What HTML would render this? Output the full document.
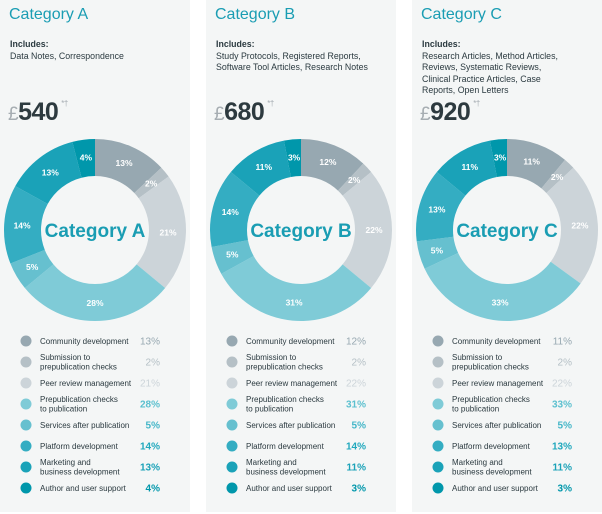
<!DOCTYPE html>
<html><head><meta charset="utf-8"><style>
body{margin:0;width:602px;height:514px;background:#fff;font-family:"Liberation Sans",sans-serif;position:relative;overflow:hidden}
.p{position:absolute;top:0;height:512px;background:#f4f6f6}
.t{position:absolute;left:9px;top:6px;font-size:16px;color:#1a9db3}
.inc{position:absolute;left:10px;top:39px;font-size:8.8px;line-height:11.6px;color:#2b3a40}
.inc b{display:block}
.pr{position:absolute;left:8px;top:98px;font-size:25px;font-weight:bold;color:#2d3a3f;letter-spacing:-0.5px}
.pr span{color:#a6adb2;font-size:19px;font-weight:normal}
.pr sup{color:#a6adb2;font-size:8px;font-weight:normal;vertical-align:14px;margin-left:3px}
svg{position:absolute;left:0;top:0}
</style></head><body>
<div class="p" style="left:0;width:190px"><div class="t">Category A</div><div class="inc"><b>Includes:</b>Data Notes, Correspondence</div><div class="pr"><span>£</span>540<sup>*†</sup></div><svg id="a" width="190" height="512"></svg></div>
<div class="p" style="left:206px;width:190px"><div class="t">Category B</div><div class="inc"><b>Includes:</b>Study Protocols, Registered Reports,<br>Software Tool Articles, Research Notes</div><div class="pr"><span>£</span>680<sup>*†</sup></div><svg id="b" width="190" height="512"></svg></div>
<div class="p" style="left:412px;width:190px"><div class="t">Category C</div><div class="inc"><b>Includes:</b>Research Articles, Method Articles,<br>Reviews, Systematic Reviews,<br>Clinical Practice Articles, Case<br>Reports, Open Letters</div><div class="pr"><span>£</span>920<sup>*†</sup></div><svg id="c" width="190" height="512"></svg></div>
<script>
var cols=["#97a8b1","#b5c0c6","#ccd4d9","#7fcbd7","#66c0cf","#34adc2","#1aa2b8","#0097ab"];
var tcols=["#97a8b1","#b5c0c6","#ccd4d9","#5cc0cf","#44b6c8","#20a8bd","#1aa2b8","#0097ab"];
var names=[["Community development"],["Submission to","prepublication checks"],["Peer review management"],["Prepublication checks","to publication"],["Services after publication"],["Platform development"],["Marketing and","business development"],["Author and user support"]];
var data={a:[13,2,21,28,5,14,13,4],b:[12,2,22,31,5,14,11,3],c:[11,2,22,33,5,13,11,3]};
var lbl={a:"Category A",b:"Category B",c:"Category C"};
for(var k in data){var v=data[k],cx=95,cy=230,R=91,r=54,s="",a0=0;
for(var i=0;i<8;i++){var a1=a0+v[i]/100*2*Math.PI;
function P(rr,a){return (cx+rr*Math.sin(a)).toFixed(2)+","+(cy-rr*Math.cos(a)).toFixed(2)}
var lg=(a1-a0)>Math.PI?1:0;
s+='<path d="M'+P(R,a0)+' A'+R+','+R+' 0 '+lg+' 1 '+P(R,a1)+' L'+P(r,a1)+' A'+r+','+r+' 0 '+lg+' 0 '+P(r,a0)+'Z" fill="'+cols[i]+'"/>';
a0=a1;}
a0=0;for(var i=0;i<8;i++){var a1=a0+v[i]/100*2*Math.PI,m=(a0+a1)/2,rr=73;
s+='<text x="'+(cx+rr*Math.sin(m)).toFixed(1)+'" y="'+(cy-rr*Math.cos(m)+3).toFixed(1)+'" font-size="8.5" font-weight="bold" fill="#fff" text-anchor="middle">'+v[i]+'%</text>';a0=a1;}
s+='<text x="'+cx+'" y="'+(cy+7)+'" font-size="19" font-weight="bold" fill="#1a9db3" text-anchor="middle">'+lbl[k]+'</text>';
for(var i=0;i<8;i++){var y=341+i*21;s+='<circle cx="26" cy="'+y+'" r="5.5" fill="'+cols[i]+'"/>';
var n=names[i];if(n.length==1)s+='<text x="40" y="'+(y+3)+'" font-size="8" fill="#2b3a40">'+n[0]+'</text>';
else s+='<text x="40" y="'+(y-2)+'" font-size="8" fill="#2b3a40">'+n[0]+'</text><text x="40" y="'+(y+7.5)+'" font-size="8" fill="#2b3a40">'+n[1]+'</text>';
s+='<text x="160" y="'+(y+3.5)+'" font-size="10" font-weight="'+(i>=3?'bold':'normal')+'" fill="'+tcols[i]+'" text-anchor="end">'+v[i]+'%</text>';}
document.getElementById(k).innerHTML=s;}
</script>
</body></html>
